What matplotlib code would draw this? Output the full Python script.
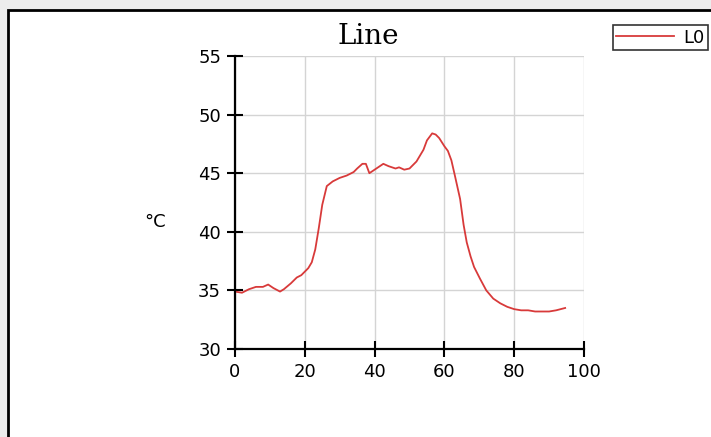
import matplotlib
matplotlib.use("Agg")
import matplotlib.pyplot as plt
from matplotlib.patches import Rectangle

# data
x = [0, 2, 4, 6, 8, 9.5, 11, 12.9, 14, 16, 17.7, 19, 21, 22, 23, 24, 25, 26.3,
     28, 30, 32, 34, 35, 36.5, 37.5, 38.5, 40, 42.5, 44, 46, 47, 48.5, 50, 52,
     54, 55, 56.5, 57.5, 58.5, 60, 61, 62, 63, 64.5, 65.5, 66.4, 67.5, 68.5,
     70.2, 72, 74, 76, 78, 80, 82, 84, 86, 88, 90, 92, 94.6]
y = [34.9, 34.8, 35.1, 35.3, 35.3, 35.5, 35.2, 34.9, 35.1, 35.6, 36.1, 36.3,
     36.9, 37.4, 38.5, 40.3, 42.3, 43.9, 44.3, 44.6, 44.8, 45.1, 45.4, 45.8,
     45.8, 45.0, 45.3, 45.8, 45.6, 45.4, 45.5, 45.3, 45.4, 46.0, 47.0, 47.8,
     48.4, 48.3, 48.0, 47.3, 46.9, 46.1, 44.8, 42.8, 40.6, 39.1, 37.9, 37.0,
     36.0, 35.0, 34.3, 33.9, 33.6, 33.4, 33.3, 33.3, 33.2, 33.2, 33.2, 33.3,
     33.5]
xticks = [0, 20, 40, 60, 80, 100]
yticks = [30, 35, 40, 45, 50, 55]

fig = plt.figure(figsize=(7.11, 4.37), dpi=100, facecolor="#ececec")

# white panel with black frame, behind everything
fig.patches.append(Rectangle((8 / 711, -0.01), 1.0, 1 - 10 / 437 + 0.01,
                             transform=fig.transFigure, facecolor="white",
                             edgecolor="black", linewidth=2, zorder=-10))

ax = fig.add_axes([235 / 711, 1 - 349 / 437, 349 / 711, 293 / 437])
ax.set_zorder(1)
ax.set_facecolor("white")
ax.plot(x, y, color="#d83a3a", linewidth=1.3, label="L0")

ax.set_xlim(0, 100)
ax.set_ylim(30, 55)
ax.set_xticks(xticks)
ax.set_yticks(yticks)
ax.grid(True, color="#d4d4d4", linewidth=1)
ax.set_axisbelow(True)
for s in ["top", "right"]:
    ax.spines[s].set_visible(False)
for s in ["left", "bottom"]:
    ax.spines[s].set_linewidth(1.6)
ax.tick_params(direction="inout", length=12, width=1.5, labelsize=13, pad=4)
for lab in ax.get_xticklabels() + ax.get_yticklabels():
    lab.set_family("DejaVu Sans")

fig.text(368 / 711, 1 - 37 / 437, "Line", family="DejaVu Serif", fontsize=20,
         ha="center", va="center")
fig.text(155 / 711, 1 - 222 / 437, "°C", fontsize=13, ha="center", va="center")

leg = fig.legend(loc="upper right", bbox_to_anchor=(708 / 711, 1 - 25 / 437),
                 frameon=True, fancybox=False, edgecolor="black", fontsize=13,
                 handlelength=3.2, borderaxespad=0, borderpad=0.2,
                 handletextpad=0.5)
leg.get_frame().set_linewidth(1.2)

fig.savefig("out.png", dpi=100, facecolor=fig.get_facecolor())
